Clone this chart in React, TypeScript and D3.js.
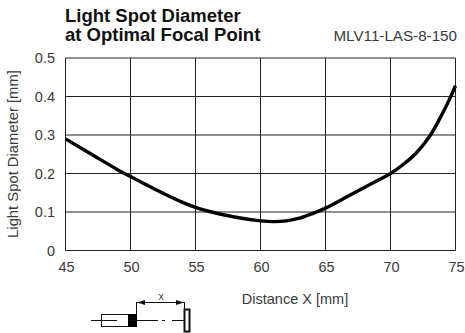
import React from "react";
import * as d3 from "d3";

const xTicks = [45, 50, 55, 60, 65, 70, 75];
const yTicks = [0, 0.1, 0.2, 0.3, 0.4, 0.5];
const yTickLabels = ["0", "0.1", "0.2", "0.3", "0.4", "0.5"];
const distance = [45, 47, 49, 50, 52, 54, 55, 56, 58, 60, 61, 62, 63, 64, 65, 67, 69, 70, 71, 72, 73, 74, 74.5, 75];
const diameter = [0.29, 0.25, 0.21, 0.192, 0.157, 0.125, 0.112, 0.102, 0.087, 0.077, 0.075, 0.077, 0.084, 0.096, 0.11, 0.146, 0.182, 0.2, 0.224, 0.254, 0.296, 0.356, 0.39, 0.428];
const titleLines = ["Light Spot Diameter", "at Optimal Focal Point"];
const modelName = "MLV11-LAS-8-150";
const xLabel = "Distance X [mm]";
const yLabel = "Light Spot Diameter [mm]";

const FONT = "'Liberation Sans', Arial, sans-serif";
const TEXT = "#3a3a3a";
const LABEL = 14.5;

export default function App() {
  const x = d3.scaleLinear().domain([45, 75]).range([65.5, 455.5]);
  const y = d3.scaleLinear().domain([0, 0.5]).range([250.5, 58]);
  const line = d3
    .line<number>()
    .x((_, i) => x(distance[i]))
    .y((d) => y(d))
    .curve(d3.curveCatmullRom);
  return (
    <svg
      width={465}
      height={333}
      viewBox="0 0 465 333"
      style={{ position: "absolute", left: 0, top: 0, background: "#fff", fontFamily: FONT }}
    >
      {xTicks.map((t) => (
        <line key={t} x1={x(t)} x2={x(t)} y1={y(0.5)} y2={y(0)} stroke="#222" strokeWidth={1} />
      ))}
      {yTicks.map((t) => (
        <line key={t} x1={x(45)} x2={x(75)} y1={y(t)} y2={y(t)} stroke="#222" strokeWidth={1} />
      ))}
      <path d={line(diameter) ?? ""} fill="none" stroke="#000" strokeWidth={3.4} />
      {xTicks.map((t) => (
        <text key={t} x={x(t) + 1} y={272} fontSize={LABEL} fill={TEXT} textAnchor="middle">
          {t}
        </text>
      ))}
      {yTicks.map((t, i) => (
        <text key={t} x={55} y={y(t) + 5} fontSize={LABEL} fill={TEXT} textAnchor="end">
          {yTickLabels[i]}
        </text>
      ))}
      <text x={65} y={22} fontSize={18.5} fontWeight="bold" fill="#111">{titleLines[0]}</text>
      <text x={65} y={41} fontSize={18.5} fontWeight="bold" fill="#111">{titleLines[1]}</text>
      <text x={457} y={41} fontSize={15.2} fill={TEXT} textAnchor="end">{modelName}</text>
      <text x={295} y={304} fontSize={LABEL} fill={TEXT} textAnchor="middle">{xLabel}</text>
      <text
        transform="translate(18,154) rotate(-90)"
        fontSize={14.8}
        fill={TEXT}
        textAnchor="middle"
      >
        {yLabel}
      </text>
      {/* sensor schematic */}
      <g stroke="#111" fill="none" strokeWidth={1}>
        <rect x={101.5} y={314.5} width={35} height={12} />
        <rect x={128} y={314} width={9} height={13} fill="#000" stroke="none" />
        <line x1={91} x2={117} y1={320.5} y2={320.5} />
        <line x1={128} x2={158} y1={320.5} y2={320.5} />
        <line x1={162} x2={165} y1={320.5} y2={320.5} />
        <line x1={172} x2={184} y1={320.5} y2={320.5} />
        <rect x={184.5} y={309.5} width={5} height={22} strokeWidth={2} />
        <line x1={136.5} x2={136.5} y1={302} y2={314} />
        <line x1={184.5} x2={184.5} y1={302} y2={309} />
        <line x1={137} x2={184} y1={302.5} y2={302.5} />
        <path d="M137 302.5l8 -2.5v5z M184 302.5l-8 -2.5v5z" fill="#111" stroke="none" />
      </g>
      <text x={161} y={300} fontSize={10.5} fill={TEXT} textAnchor="middle">x</text>
    </svg>
  );
}
